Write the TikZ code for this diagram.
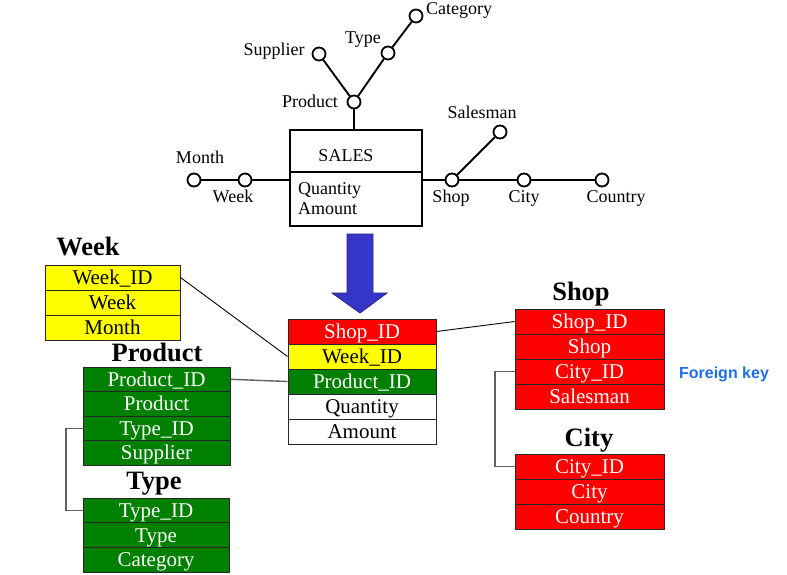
\documentclass[tikz,border=0pt]{standalone}
\usepackage{fontspec}
\setmainfont{Liberation Serif}
\newfontfamily\fksans{Liberation Sans}
\definecolor{tred}{HTML}{FF0000}
\definecolor{tyel}{HTML}{FFFF00}
\definecolor{tgreen}{HTML}{008000}
\definecolor{arrowblue}{HTML}{3535C8}
\definecolor{arrowedge}{HTML}{22228A}
\definecolor{fkblue}{HTML}{1E6FE8}
\definecolor{linkgray}{HTML}{606060}
\begin{document}
\begin{tikzpicture}[x=1pt,y=-1pt,
  dot/.style={circle,draw,line width=1.8pt,fill=white,minimum size=13pt,inner sep=0pt},
  lbl/.style={font=\fontsize{18}{18}\selectfont,inner sep=0pt,anchor=base},
  link/.style={line width=1.9pt},
  row/.style={draw=black!85,line width=0.9pt,inner sep=0pt,font=\fontsize{21}{21}\selectfont,
              text height=16pt,text depth=2pt,anchor=center},
  redrow/.style={row,fill=tred,text=white,minimum width=149pt,minimum height=25pt},
  yelrow/.style={row,fill=tyel,text=black},
  grnrow/.style={row,fill=tgreen,text=white},
  whtrow/.style={row,fill=white,text=black},
  tabtitle/.style={font=\bfseries\fontsize{26.5}{26.5}\selectfont,inner sep=0pt,anchor=base},
  fkline/.style={draw=linkgray,line width=1.4pt},
  thinlink/.style={draw=black,line width=0.9pt}
]
\useasboundingbox (0,0) rectangle (787,575);

% ---------- star schema (top) ----------
\node[draw,line width=1.9pt,minimum width=132pt,minimum height=96pt,inner sep=0pt] (sales) at (356,178) {};
\coordinate (divl) at (290,172);
\coordinate (divr) at (422,172);
\draw[line width=1.9pt] (divl) -- (divr);
\node[lbl] (salestxt) at (346,161) {SALES};
\node[lbl,anchor=base west] (qtytxt) at (298,194) {Quantity};
\node[lbl,anchor=base west] (amttxt) at (298,214) {Amount};

\node[dot] (dprod) at (354,102) {};
\node[dot] (dsupp) at (319,54) {};
\node[dot] (dtype) at (388,53) {};
\node[dot] (dcat) at (416,16) {};
\node[dot] (dmonth) at (194,180) {};
\node[dot] (dweek) at (245,180) {};
\node[dot] (dshop) at (452,180) {};
\node[dot] (dsales) at (500,132) {};
\node[dot] (dcity) at (524,180) {};
\node[dot] (dcountry) at (602,180) {};

\draw[link] (dprod) -- (dprod |- sales.north);
\draw[link] (dprod) -- (dsupp);
\draw[link] (dprod) -- (dtype);
\draw[link] (dtype) -- (dcat);
\draw[link] (dmonth) -- (dweek);
\draw[link] (dweek) -- (dweek -| sales.west);
\draw[link] (sales.east |- dshop) -- (dshop);
\draw[link] (dshop) -- (dsales);
\draw[link] (dshop) -- (dcity);
\draw[link] (dcity) -- (dcountry);

\node[lbl] (lsupp) at (274,56) {Supplier};
\node[lbl] (ltype) at (363,44) {Type};
\node[lbl] (lcat) at (459,15) {Category};
\node[lbl] (lprod) at (310,108) {Product};
\node[lbl] (lmonth) at (200,164) {Month};
\node[lbl] (lweek) at (233,202) {Week};
\node[lbl] (lshop) at (451,202) {Shop};
\node[lbl] (lcity) at (524,202) {City};
\node[lbl] (lcountry) at (616,202) {Country};
\node[lbl] (lsalesman) at (482,119) {Salesman};

% ---------- big arrow ----------
\draw[fill=arrowblue,draw=arrowedge,line width=0.8pt]
  (347,234) -- (373,234) -- (373,293) -- (387,293) -- (360,313) -- (332,293) -- (347,293) -- cycle;

% ---------- fact table ----------
\begin{scope}[every node/.append style={minimum width=148pt,minimum height=25pt}]
\node[redrow,minimum width=148pt] (fshop) at (362,331.5) {Shop\_ID};
\node[yelrow] (fweek) at (362,356.5) {Week\_ID};
\node[grnrow] (fprod) at (362,381.5) {Product\_ID};
\node[whtrow] (fqty) at (362,406.5) {Quantity};
\node[whtrow] (famt) at (362,431.5) {Amount};
\end{scope}

% ---------- Week table ----------
\node[tabtitle] (tweek) at (88,255) {Week};
\begin{scope}[every node/.append style={minimum width=135pt,minimum height=25pt}]
\node[yelrow] (wid) at (112.5,277.5) {Week\_ID};
\node[yelrow] (wweek) at (112.5,302.5) {Week};
\node[yelrow] (wmonth) at (112.5,327.5) {Month};
\end{scope}

% ---------- Product table ----------
\node[tabtitle] (tprod) at (157,361) {Product};
\begin{scope}[every node/.append style={minimum width=147pt,minimum height=24.5pt}]
\node[grnrow] (pid) at (156.5,379.3) {Product\_ID};
\node[grnrow] (pprod) at (156.5,403.8) {Product};
\node[grnrow] (ptype) at (156.5,428.3) {Type\_ID};
\node[grnrow] (psupp) at (156.5,452.8) {Supplier};
\end{scope}

% ---------- Type table ----------
\node[tabtitle] (ttype) at (154,489) {Type};
\begin{scope}[every node/.append style={minimum width=146pt,minimum height=24.7pt}]
\node[grnrow] (tid) at (156,510.3) {Type\_ID};
\node[grnrow] (ttyp) at (156,535) {Type};
\node[grnrow] (tcat) at (156,559.7) {Category};
\end{scope}

% ---------- Shop table ----------
\node[tabtitle] (tshop) at (581,300) {Shop};
\node[redrow] (sid) at (589.5,321.5) {Shop\_ID};
\node[redrow] (sshop) at (589.5,346.5) {Shop};
\node[redrow] (scity) at (589.5,371.5) {City\_ID};
\node[redrow] (ssales) at (589.5,396.5) {Salesman};

% ---------- City table ----------
\node[tabtitle] (tcity) at (589,446) {City};
\node[redrow] (cid) at (589.5,466.5) {City\_ID};
\node[redrow] (ccity) at (589.5,491.5) {City};
\node[redrow] (ccountry) at (589.5,516.5) {Country};

% ---------- links ----------
\draw[thinlink] (wid.east) -- (fweek.west);
\draw[fkline] (pid.east) -- (fprod.west);
\draw[thinlink] (fshop.east) -- (sid.west);
\coordinate (tbend) at (66,0);
\draw[fkline] (ptype.west) -- (ptype.west -| tbend) -- (tid.west -| tbend) -- (tid.west);
\coordinate (cbend) at (495,0);
\draw[fkline] (scity.west) -- (scity.west -| cbend) -- (cid.west -| cbend) -- (cid.west);

\node[font=\fksans\bfseries\fontsize{16}{16}\selectfont,text=fkblue,inner sep=0pt,anchor=base] (fk) at (724,378) {Foreign key};
\end{tikzpicture}
\end{document}
